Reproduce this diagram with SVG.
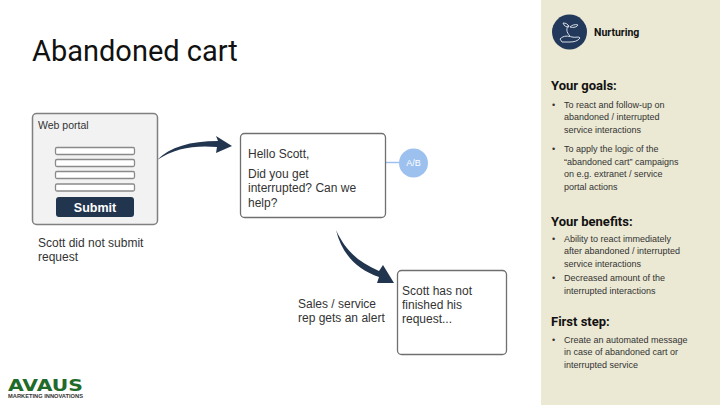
<svg xmlns="http://www.w3.org/2000/svg" width="720" height="405" viewBox="0 0 720 405">
<style>
text{font-family:"Liberation Sans",Arial,sans-serif;fill:#333}
.body{font-size:12px}
.side{font-size:9px;fill:#333}
.head{font-family:"Roboto","Liberation Sans",sans-serif;font-size:13px;font-weight:700;fill:#111}
.field{fill:#fff;stroke:#8a8a8a;stroke-width:1.3}
.card{fill:#fff;stroke:#6f6f6f;stroke-width:1.3}
.flow{fill:#22354f}
</style>
<rect width="720" height="405" fill="#fff"/>
<rect x="541" y="0" width="179" height="405" fill="#ebe8d3"/>
<text x="32" y="61" style="font-size:29px;font-family:Roboto,'Liberation Sans',sans-serif;fill:#111">Abandoned cart</text>

<g id="connectors">
<path class="flow" d="M157 160C170 147 190 141 218 141L216 136L232 146L216 153L217 147C195 145 175 148 157 160Z"/>
<path class="flow" d="M336 230C345 250 358 262 379 271L383 265L394 283L377 283L379 277C358 270 342 255 336 230Z"/>
<path d="M400 162.500H380" stroke="#9dc1ee" stroke-width="1.500" fill="none"/>
<path d="M375 162.500L381 159.500V165.500Z" fill="#9dc1ee"/>
</g>

<g id="web-portal">
<rect x="32.500" y="113.500" width="125" height="111" rx="4" fill="#f2f2f2" stroke="#808080" stroke-width="1.500"/>
<text x="38" y="129" style="font-size:10.500px">Web portal</text>
<rect class="field" x="55.500" y="147.500" width="79" height="7" rx="1.500"/>
<rect class="field" x="55.500" y="159.500" width="79" height="7" rx="1.500"/>
<rect class="field" x="55.500" y="171.500" width="79" height="7" rx="1.500"/>
<rect class="field" x="55.500" y="184" width="79" height="7" rx="1.500"/>
<rect x="56" y="197" width="78" height="20" rx="3" fill="#22354f"/>
<text x="95" y="212" text-anchor="middle" style="font-size:12.500px;font-weight:700;fill:#fff">Submit</text>
</g>
<text class="body" x="38" y="247">Scott did not submit</text>
<text class="body" x="38" y="261">request</text>

<g id="message">
<rect class="card" x="240.500" y="133.500" width="145" height="84" rx="4"/>
<text class="body" x="248" y="158">Hello Scott,</text>
<text class="body" x="248" y="178">Did you get</text>
<text class="body" x="248" y="192">interrupted? Can we</text>
<text class="body" x="248" y="207">help?</text>
</g>

<g id="ab-test">
<circle cx="413.500" cy="163" r="14.500" fill="#9dc1ee"/>
<text x="413.500" y="166" text-anchor="middle" style="font-size:9px;fill:#fff">A/B</text>
</g>

<g id="alert">
<rect class="card" x="397.500" y="270.500" width="109" height="84" rx="4"/>
<text class="body" x="402" y="295">Scott has not</text>
<text class="body" x="402" y="309">finished his</text>
<text class="body" x="402" y="323">request...</text>
</g>
<text class="body" x="298" y="308">Sales / service</text>
<text class="body" x="298" y="322">rep gets an alert</text>

<g id="nurturing">
<circle cx="569.500" cy="32" r="17.500" fill="#22395c"/>
<g fill="none" stroke="#d5dbe3" stroke-width="1">
<path d="M560 39C564 35 568 36 572 37C576 38 579 36 580 38C578 41 574 42 570 42H562Z"/>
<path d="M570 36C566 32 566 28 569 25"/>
<path d="M569 27C566 27 564 26 563 23C566 23 568 24 569 27Z"/>
<path d="M570 27C572 25 575 24 578 25C577 27 574 28 570 27Z"/>
</g>
<text x="594" y="36" style="font-family:Roboto,'Liberation Sans',sans-serif;font-size:10.500px;font-weight:700;fill:#111">Nurturing</text>
</g>

<g id="sidebar">
<text class="head" x="551" y="90">Your goals:</text>
<text class="side" x="552" y="108">•</text>
<text class="side" x="564" y="108">To react and follow-up on</text>
<text class="side" x="564" y="120">abandoned / interrupted</text>
<text class="side" x="564" y="133">service interactions</text>
<text class="side" x="552" y="152">•</text>
<text class="side" x="564" y="152">To apply the logic of  the</text>
<text class="side" x="564" y="165">“abandoned cart” campaigns</text>
<text class="side" x="564" y="177">on e.g. extranet / service</text>
<text class="side" x="564" y="190">portal actions</text>
<text class="head" x="551" y="226">Your benefits:</text>
<text class="side" x="552" y="242">•</text>
<text class="side" x="564" y="242">Ability to react immediately</text>
<text class="side" x="564" y="254">after abandoned / interrupted</text>
<text class="side" x="564" y="267">service interactions</text>
<text class="side" x="552" y="281">•</text>
<text class="side" x="564" y="281">Decreased amount of the</text>
<text class="side" x="564" y="294">interrupted interactions</text>
<text class="head" x="551" y="326">First step:</text>
<text class="side" x="552" y="343">•</text>
<text class="side" x="564" y="343">Create an automated message</text>
<text class="side" x="564" y="355">in case of abandoned cart or</text>
<text class="side" x="564" y="368">interrupted service</text>
</g>

<g id="logo">
<text x="8" y="391" textLength="75" lengthAdjust="spacingAndGlyphs" style="font-family:'DejaVu Sans',sans-serif;font-size:16px;font-weight:700;fill:#1f6b2a">AVAUS</text>
<text x="8" y="398" textLength="75" lengthAdjust="spacingAndGlyphs" style="font-size:5.500px;font-weight:700;fill:#333">MARKETING INNOVATIONS</text>
</g>
</svg>
